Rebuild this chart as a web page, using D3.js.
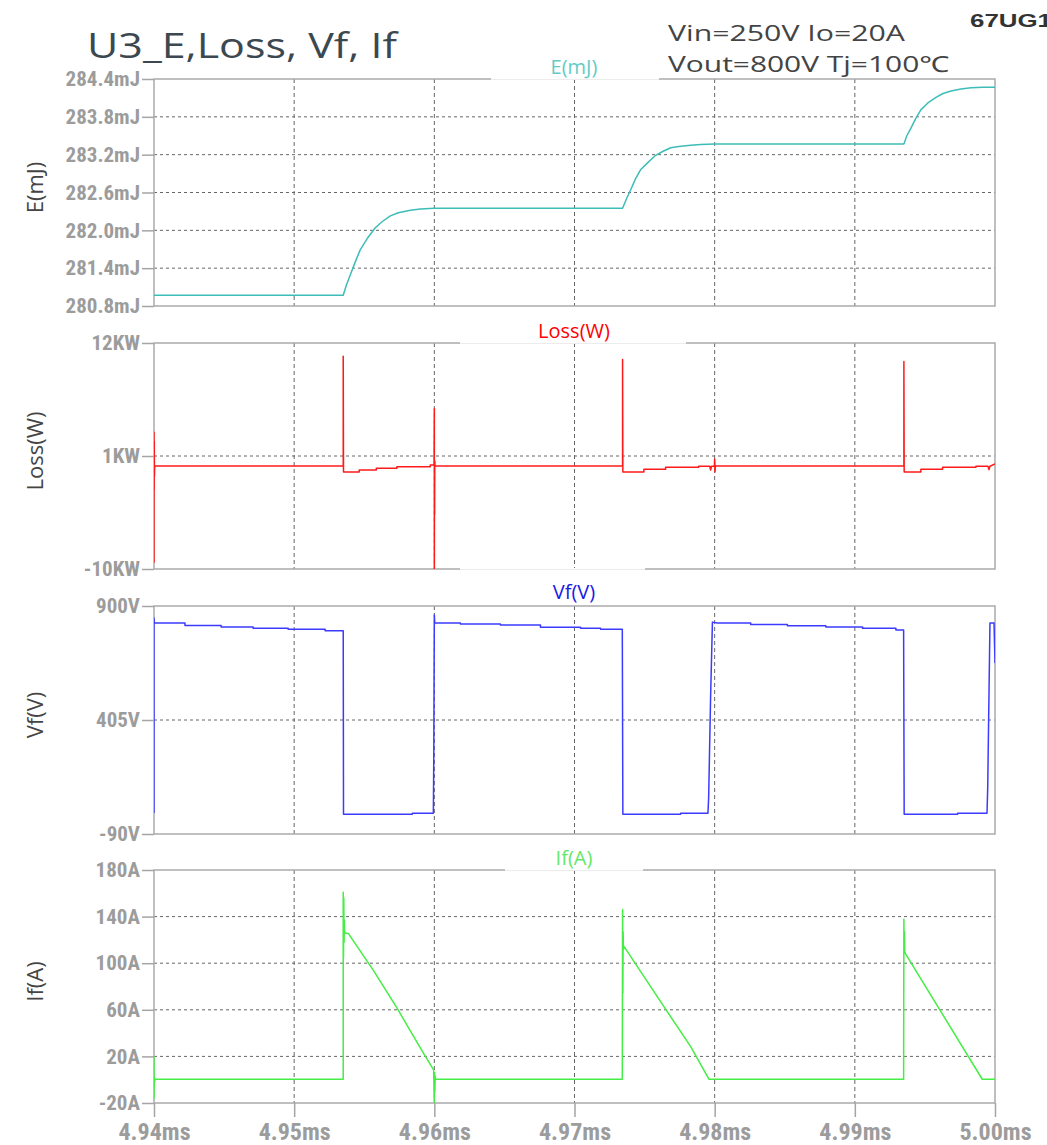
<!DOCTYPE html>
<html>
<head>
<meta charset="utf-8">
<script src="https://cdn.jsdelivr.net/npm/d3@7"></script>
<style>
  html, body { margin: 0; padding: 0; background: #fff; overflow: hidden; }
  svg { display: block; }
  .tick text { font-family: "Liberation Sans Narrow", "Arial Narrow", "Roboto Condensed", sans-serif; font-weight: bold; fill: #9c9c9c; }
</style>
</head>
<body>
<svg id="chart" width="1047" height="1145"></svg>
<script>
// ---------------- DATA ----------------
const xTickValues = [4.94, 4.95, 4.96, 4.97, 4.98, 4.99, 5.00];
const xTickLabels = ["4.94ms", "4.95ms", "4.96ms", "4.97ms", "4.98ms", "4.99ms", "5.00ms"];

const eTickValues = [284.4, 283.8, 283.2, 282.6, 282.0, 281.4, 280.8];
const eTickLabels = ["284.4mJ", "283.8mJ", "283.2mJ", "282.6mJ", "282.0mJ", "281.4mJ", "280.8mJ"];

const lossTickValues = [12, 1, -10];
const lossTickLabels = ["12KW", "1KW", "-10KW"];

const vfTickValues = [900, 405, -90];
const vfTickLabels = ["900V", "405V", "-90V"];

const ifTickValues = [180, 140, 100, 60, 20, -20];
const ifTickLabels = ["180A", "140A", "100A", "60A", "20A", "-20A"];

// E (mJ) vs time (ms)
const eData = [
  [4.94000, 280.97], [4.95350, 280.97], [4.95371, 281.12], [4.95400, 281.29], [4.95436, 281.50],
  [4.95471, 281.69], [4.95521, 281.87], [4.95579, 282.04], [4.95629, 282.14], [4.95686, 282.23],
  [4.95743, 282.28], [4.95829, 282.32], [4.95900, 282.34], [4.96000, 282.35],
  [4.97343, 282.35], [4.97371, 282.50], [4.97400, 282.64], [4.97436, 282.82], [4.97471, 282.96],
  [4.97521, 283.07], [4.97579, 283.19], [4.97629, 283.25], [4.97686, 283.31], [4.97743, 283.33],
  [4.97829, 283.35], [4.97900, 283.36], [4.98000, 283.37],
  [4.99350, 283.37], [4.99371, 283.50], [4.99400, 283.62], [4.99436, 283.78], [4.99471, 283.91],
  [4.99521, 284.02], [4.99579, 284.11], [4.99629, 284.17], [4.99686, 284.21], [4.99757, 284.24],
  [4.99829, 284.26], [4.99914, 284.27], [5.00000, 284.27]
];

// Loss (KW) vs time (ms)
const lossData = [
  [4.94000, -9.4], [4.94000, 3.3], [4.94001, -2.3], [4.94002, 2.4], [4.94003, -1.0], [4.94005, 0.03],
  [4.95350, 0.03], [4.95350, 10.7], [4.95352, -0.55], [4.95464, -0.55], [4.95464, -0.36],
  [4.95586, -0.36], [4.95586, -0.19], [4.95733, -0.19], [4.95733, -0.04], [4.95971, -0.04],
  [4.95971, 0.13], [4.95998, 0.13], [4.96000, 5.6], [4.96000, -12], [4.96001, 0.6],
  [4.96002, -4.7], [4.96003, 0.5], [4.96005, 0.03],
  [4.97343, 0.03], [4.97343, 10.4], [4.97345, -0.55], [4.97495, -0.55], [4.97495, -0.29],
  [4.97650, -0.29], [4.97650, -0.09], [4.97886, -0.09], [4.97886, 0.0], [4.97965, 0.0],
  [4.97971, -0.36], [4.97977, 0.0], [4.97998, 0.0], [4.98000, 0.7], [4.98002, -0.55], [4.98005, 0.03],
  [4.99350, 0.03], [4.99350, 10.2], [4.99352, -0.55], [4.99471, -0.55], [4.99471, -0.29],
  [4.99626, -0.29], [4.99626, -0.09], [4.99864, -0.09], [4.99864, 0.0], [4.99950, 0.0],
  [4.99957, -0.33], [4.99964, 0.0], [5.00000, 0.22]
];

// Vf (V) vs time (ms)
const vfData = [
  [4.94000, 1], [4.94000, 848], [4.94003, 826], [4.94221, 826], [4.94221, 815],
  [4.94479, 815], [4.94479, 809], [4.94707, 809], [4.94707, 803], [4.94957, 803],
  [4.94957, 799], [4.95221, 799], [4.95221, 793], [4.95350, 793], [4.95352, -4],
  [4.95843, -4], [4.95843, 0], [4.95993, 0], [4.95996, 240], [4.96000, 861], [4.96003, 826],
  [4.96186, 826], [4.96186, 822], [4.96471, 822], [4.96471, 817], [4.96757, 817],
  [4.96757, 808], [4.97043, 808], [4.97043, 803], [4.97186, 803], [4.97186, 799],
  [4.97341, 799], [4.97345, -4], [4.97757, -4], [4.97757, 0], [4.97952, 0], [4.97957, 66],
  [4.97971, 505], [4.97984, 830], [4.98019, 826], [4.98257, 826], [4.98257, 820],
  [4.98519, 820], [4.98519, 814], [4.98793, 814], [4.98793, 809], [4.99055, 809],
  [4.99055, 803], [4.99293, 803], [4.99293, 796], [4.99348, 796], [4.99352, -4],
  [4.99733, -4], [4.99733, 0], [4.99943, 0], [4.99948, 110], [4.99964, 826], [4.99993, 826], [5.00000, 652]
];

// If (A) vs time (ms)
const ifData = [
  [4.94000, 20], [4.94000, -16], [4.94002, 3], [4.94004, -2], [4.94006, 0.4],
  [4.95350, 0.4], [4.95350, 161], [4.95352, 105], [4.95354, 156], [4.95356, 118],
  [4.95358, 137], [4.95360, 126], [4.95386, 125.6], [4.95564, 94], [4.95733, 61.6],
  [4.95921, 23], [4.95995, 8.4], [4.96000, -22], [4.96002, 6], [4.96004, -10],
  [4.96006, 3], [4.96008, 0.4],
  [4.97341, 0.4], [4.97343, 146], [4.97345, 74.5], [4.97347, 127], [4.97349, 112],
  [4.97355, 114], [4.97638, 62.7], [4.97829, 28.4], [4.97959, 0.4],
  [4.99348, 0.4], [4.99350, 137.7], [4.99352, 109], [4.99354, 127], [4.99356, 110],
  [4.99362, 108], [4.99909, 0.4], [5.00000, 0.4]
];

// ---------------- LAYOUT ----------------
const svg = d3.select("#chart");
const left = 154, right = 995;
const x = d3.scaleLinear().domain([4.94, 5.00]).range([left, right]);

const panels = [
  { id: "e", top: 79, bottom: 306, domain: [280.8, 284.4], ticks: eTickValues, labels: eTickLabels,
    data: eData, color: "#3dbdb8", title: "E(mJ)", titleColor: "#63cbc6",
    box: [491, 659, 52, 80], coverY: 79, titleY: 74, grid: [283.8, 283.2, 282.6, 282.0, 281.4] },
  { id: "loss", top: 343, bottom: 569, domain: [-10, 12], ticks: lossTickValues, labels: lossTickLabels,
    data: lossData, color: "#ff1a1a", title: "Loss(W)", titleColor: "#ff0000",
    box: [460, 686, 316, 344], coverY: 343, titleY: 338, grid: [1] },
  { id: "vf", top: 606, bottom: 834, domain: [-90, 900], ticks: vfTickValues, labels: vfTickLabels,
    data: vfData, color: "#3b3bff", title: "Vf(V)", titleColor: "#1a1ae6",
    box: [460, 645, 568, 604], coverY: 569, titleY: 599, grid: [405] },
  { id: "if", top: 870, bottom: 1103, domain: [-20, 180], ticks: ifTickValues, labels: ifTickLabels,
    data: ifData, color: "#44ee44", title: "If(A)", titleColor: "#66e866",
    box: [505, 643, 846, 871], coverY: 870, titleY: 865, grid: [140, 100, 60, 20] }
];
const axisTitles = ["E(mJ)", "Loss(W)", "Vf(V)", "If(A)"];

const defs = svg.append("defs");

panels.forEach((p, idx) => {
  const y = d3.scaleLinear().domain(p.domain).range([p.bottom, p.top]);
  const g = svg.append("g");

  defs.append("clipPath").attr("id", "clip-" + p.id)
    .append("rect").attr("x", left).attr("y", p.top).attr("width", right - left).attr("height", p.bottom - p.top);

  g.selectAll(".hgrid").data(p.grid).join("line")
    .attr("x1", left).attr("x2", right)
    .attr("y1", d => y(d)).attr("y2", d => y(d))
    .attr("stroke", "#666").attr("stroke-width", 1).attr("stroke-dasharray", "3,3");

  g.selectAll(".vgrid").data(xTickValues.slice(1, -1)).join("line")
    .attr("x1", d => x(d)).attr("x2", d => x(d))
    .attr("y1", p.top).attr("y2", p.bottom)
    .attr("stroke", "#666").attr("stroke-width", 1).attr("stroke-dasharray", "4,3");

  g.append("rect").attr("x", left).attr("y", p.top)
    .attr("width", right - left).attr("height", p.bottom - p.top)
    .attr("fill", "none").attr("stroke", "#aaa").attr("stroke-width", 1.5);

  const line = d3.line().x(d => x(d[0])).y(d => y(d[1]));
  g.append("path").datum(p.data)
    .attr("clip-path", "url(#clip-" + p.id + ")")
    .attr("d", line).attr("fill", "none")
    .attr("stroke", p.color).attr("stroke-width", 1.5).attr("stroke-linejoin", "round");

  const ax = d3.axisLeft(y).tickValues(p.ticks).tickFormat((d, i) => p.labels[i]).tickSize(12).tickPadding(2);
  const axg = svg.append("g").attr("transform", `translate(${left},0)`).call(ax);
  axg.select(".domain").remove();
  axg.selectAll(".tick line").attr("stroke", "#a5a5a5").attr("stroke-width", 1.5);
  axg.selectAll(".tick text").attr("font-size", 21);

  const cy = (p.top + p.bottom) / 2 - 5;
  svg.append("text")
    .attr("transform", `translate(43,${cy}) rotate(-90)`)
    .attr("text-anchor", "middle")
    .attr("font-family", "'Open Sans', 'Noto Sans', sans-serif")
    .attr("font-size", 22).attr("fill", "#454545")
    .text(axisTitles[idx]);
});

const xAxis = d3.axisBottom(x).tickValues(xTickValues).tickFormat((d, i) => xTickLabels[i]).tickSize(14).tickPadding(6);
const xg = svg.append("g").attr("transform", "translate(0,1103)").call(xAxis);
xg.select(".domain").remove();
xg.selectAll(".tick line").attr("stroke", "#a5a5a5").attr("stroke-width", 1.5);
xg.selectAll(".tick text").attr("font-size", 24);

panels.forEach(p => {
  const [x0, x1, y0, y1] = p.box;
  svg.append("rect").attr("x", x0).attr("y", y0).attr("width", x1 - x0).attr("height", y1 - y0)
    .attr("fill", "#fff");
  svg.append("line").attr("x1", x0).attr("x2", x1).attr("y1", p.coverY + 0.5).attr("y2", p.coverY + 0.5)
    .attr("stroke", "#ececec").attr("stroke-width", 1);
  svg.append("text").attr("x", 574).attr("y", p.titleY).attr("text-anchor", "middle")
    .attr("font-family", "'Open Sans', 'Noto Sans', sans-serif").attr("font-size", 20)
    .attr("fill", p.titleColor).text(p.title);
});

svg.append("text").attr("x", 87).attr("y", 58)
  .attr("font-family", "'Open Sans', 'Noto Sans', sans-serif").attr("font-size", 34)
  .attr("fill", "#3c4850").attr("textLength", 310).attr("lengthAdjust", "spacingAndGlyphs")
  .text("U3_E,Loss, Vf, If");

svg.append("text").attr("x", 668).attr("y", 41)
  .attr("font-family", "'Open Sans', 'Noto Sans', sans-serif").attr("font-size", 22)
  .attr("fill", "#444").attr("textLength", 237).attr("lengthAdjust", "spacingAndGlyphs")
  .text("Vin=250V Io=20A");

svg.append("text").attr("x", 668).attr("y", 72)
  .attr("font-family", "'Open Sans', 'Noto Sans', sans-serif").attr("font-size", 22)
  .attr("fill", "#444").attr("textLength", 281).attr("lengthAdjust", "spacingAndGlyphs")
  .text("Vout=800V Tj=100℃");

svg.append("text").attr("x", 970).attr("y", 27)
  .attr("font-family", "'Liberation Sans', Arial, sans-serif").attr("font-weight", "bold").attr("font-size", 19)
  .attr("fill", "#333").attr("textLength", 82).attr("lengthAdjust", "spacingAndGlyphs")
  .text("67UG1");
</script>
</body>
</html>
